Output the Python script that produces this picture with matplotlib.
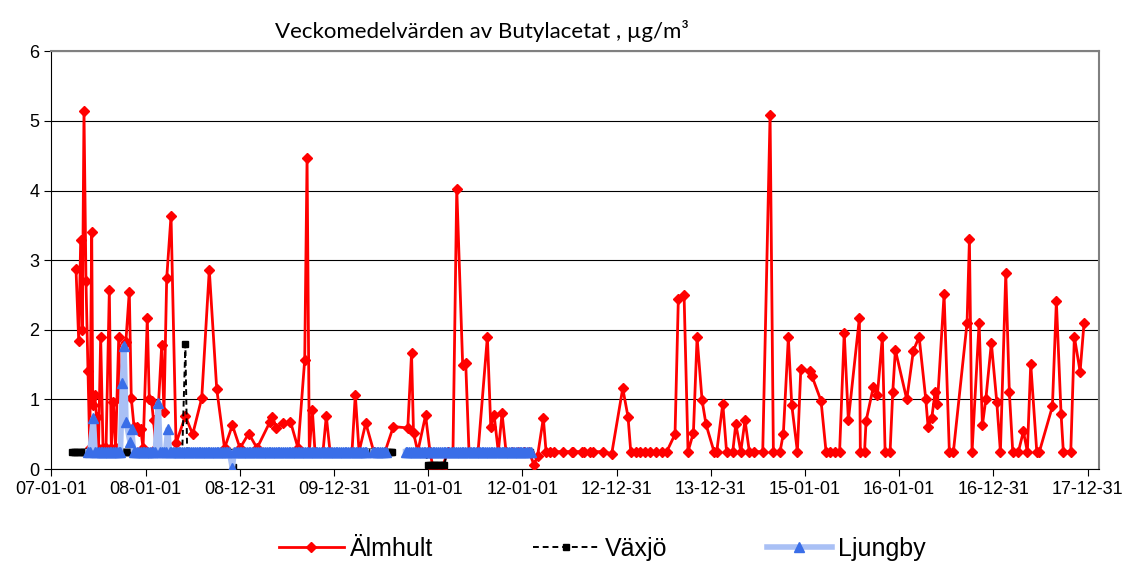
import numpy as np
import matplotlib
matplotlib.use("Agg")
import matplotlib.pyplot as plt

# x positions are decimal years
almhult_x = [2007.262, 2007.291, 2007.312, 2007.329, 2007.347, 2007.368, 2007.390, 2007.408, 2007.429, 2007.440,
             2007.461, 2007.480, 2007.501, 2007.524, 2007.549, 2007.581, 2007.616, 2007.637, 2007.658, 2007.682,
             2007.716, 2007.729, 2007.767, 2007.791, 2007.828, 2007.849, 2007.878, 2007.907, 2007.926, 2007.949,
             2007.974, 2008.019, 2008.040, 2008.064, 2008.085, 2008.112, 2008.172, 2008.196, 2008.225, 2008.271,
             2008.324, 2008.423, 2008.501, 2008.597, 2008.677, 2008.756, 2008.839, 2008.922, 2009.003, 2009.096,
             2009.184, 2009.322, 2009.346, 2009.385, 2009.460, 2009.539, 2009.619, 2009.690, 2009.715, 2009.739,
             2009.771, 2009.799, 2009.884, 2009.919, 2009.959, 2010.192, 2010.227, 2010.267, 2010.338, 2010.423,
             2010.543, 2010.631, 2010.784, 2010.824, 2010.845, 2010.890, 2010.973, 2011.020, 2011.052, 2011.100,
             2011.148, 2011.211, 2011.264, 2011.304, 2011.367, 2011.399, 2011.434, 2011.530, 2011.629, 2011.665,
             2011.700, 2011.745, 2011.785, 2011.827, 2011.891, 2011.955, 2012.018, 2012.071, 2012.124, 2012.162,
             2012.223, 2012.252, 2012.294, 2012.337, 2012.435, 2012.525, 2012.542, 2012.631, 2012.655, 2012.719,
             2012.754, 2012.854, 2012.949, 2013.066, 2013.122, 2013.151, 2013.207, 2013.250, 2013.303, 2013.356,
             2013.420, 2013.480, 2013.533, 2013.621, 2013.656, 2013.717, 2013.759, 2013.816, 2013.855, 2013.908,
             2013.950, 2014.035, 2014.064, 2014.128, 2014.168, 2014.234, 2014.266, 2014.319, 2014.364, 2014.410,
             2014.460, 2014.552, 2014.630, 2014.665, 2014.736, 2014.771, 2014.824, 2014.860, 2014.920, 2014.956,
             2015.054, 2015.076, 2015.171, 2015.224, 2015.267, 2015.320, 2015.368, 2015.417, 2015.461, 2015.578,
             2015.588, 2015.633, 2015.649, 2015.726, 2015.769, 2015.822, 2015.851, 2015.904, 2015.932, 2015.960,
             2016.081, 2016.151, 2016.212, 2016.283, 2016.307, 2016.346, 2016.381, 2016.406, 2016.477, 2016.533,
             2016.576, 2016.721, 2016.746, 2016.774, 2016.849, 2016.884, 2016.920, 2016.979, 2017.036, 2017.075,
             2017.132, 2017.170, 2017.206, 2017.266, 2017.319, 2017.361, 2017.397, 2017.461, 2017.489, 2017.627,
             2017.669, 2017.719, 2017.743, 2017.822, 2017.860, 2017.921, 2017.963]
almhult_y = [2.88, 1.84, 3.29, 2.00, 5.14, 2.70, 1.41, 0.30, 3.41, 0.92,
             1.07, 0.75, 0.30, 1.90, 0.30, 0.30, 2.57, 0.30, 0.97, 0.30,
             1.90, 1.00, 1.78, 1.82, 2.55, 1.02, 0.61, 0.60, 0.55, 0.58,
             0.30, 2.17, 1.00, 0.98, 0.70, 0.30, 1.78, 0.82, 2.74, 3.64,
             0.37, 0.76, 0.50, 1.02, 2.86, 1.15, 0.30, 0.63, 0.30, 0.51,
             0.30, 0.68, 0.75, 0.59, 0.66, 0.68, 0.30, 1.57, 4.47, 0.25,
             0.85, 0.25, 0.25, 0.76, 0.25, 0.25, 1.07, 0.25, 0.66, 0.25,
             0.25, 0.61, 0.59, 1.66, 0.52, 0.25, 0.77, 0.25, 0.02, 0.02,
             0.02, 0.25, 0.25, 4.03, 1.49, 1.53, 0.25, 0.25, 1.90, 0.61,
             0.78, 0.25, 0.80, 0.25, 0.25, 0.25, 0.25, 0.25, 0.06, 0.19,
             0.73, 0.25, 0.25, 0.25, 0.25, 0.25, 0.25, 0.25, 0.25, 0.25,
             0.25, 0.25, 0.22, 1.16, 0.75, 0.25, 0.25, 0.25, 0.25, 0.25,
             0.25, 0.25, 0.25, 0.50, 2.44, 2.50, 0.25, 0.52, 1.89, 0.99,
             0.64, 0.25, 0.25, 0.94, 0.25, 0.25, 0.65, 0.25, 0.70, 0.25,
             0.25, 0.25, 5.09, 0.25, 0.25, 0.51, 1.89, 0.92, 0.25, 1.43,
             1.41, 1.33, 0.98, 0.25, 0.25, 0.25, 0.25, 1.96, 0.70, 2.17,
             0.25, 0.25, 0.69, 1.18, 1.06, 1.90, 0.25, 0.25, 1.10, 1.71,
             1.00, 1.70, 1.90, 1.00, 0.61, 0.73, 1.10, 0.93, 2.51, 0.25,
             0.25, 2.10, 3.30, 0.25, 2.10, 0.63, 1.00, 1.81, 0.97, 0.25,
             2.81, 1.10, 0.25, 0.25, 0.54, 0.25, 1.51, 0.25, 0.25, 0.90,
             2.41, 0.79, 0.25, 0.25, 1.90, 1.40, 2.10]

# weekly stretches at the reporting value: (start, end, value)
vaxjo_runs = [(2007.217, 2008.404, 0.25), (2008.442, 2008.900, 0.25), (2008.948, 2010.640, 0.25),
              (2010.780, 2010.985, 0.25), (2011.000, 2011.180, 0.06), (2011.200, 2012.090, 0.25)]
vaxjo_x = [2008.423, 2008.929]
vaxjo_y = [1.79, 0.03]

ljungby_runs = [(2007.390, 2007.427, 0.25), (2007.465, 2007.735, 0.25), (2007.873, 2008.117, 0.25),
                (2008.155, 2008.217, 0.25), (2008.255, 2008.903, 0.25), (2008.941, 2010.345, 0.25),
                (2010.415, 2010.560, 0.25), (2010.760, 2012.100, 0.25)]
ljungby_x = [2007.446, 2007.754, 2007.772, 2007.793, 2007.835, 2007.854, 2008.136, 2008.236, 2008.922]
ljungby_y = [0.73, 1.23, 1.77, 0.68, 0.39, 0.57, 0.95, 0.57, 0.01]

tick_labels = ['07-01-01', '08-01-01', '08-12-31', '09-12-31', '11-01-01', '12-01-01',
               '12-12-31', '13-12-31', '15-01-01', '16-01-01', '16-12-31', '17-12-31']


def build(runs, px, py):
    xs, ys = list(px), list(py)
    for a, b, v in runs:
        w = np.arange(a, b + 1e-6, 1 / 52)
        xs += list(w)
        ys += [v] * len(w)
    order = np.argsort(xs)
    xs = np.array(xs)[order]
    ys = np.array(ys)[order]
    ox, oy = [xs[0]], [ys[0]]
    for i in range(1, len(xs)):
        if xs[i] - xs[i - 1] > 0.045:
            ox.append(np.nan)
            oy.append(np.nan)
        ox.append(xs[i])
        oy.append(ys[i])
    return ox, oy


plt.rcParams['font.family'] = ['Liberation Sans', 'DejaVu Sans']
fig = plt.figure(figsize=(11.3, 5.69), dpi=100)
ax = fig.add_axes([0.0454, 0.1757, 0.9272, 0.734])

ax.plot(almhult_x, almhult_y, color='#FF0000', lw=2, marker='D', ms=5,
        label='Älmhult', zorder=3)
vx, vy = build(vaxjo_runs, vaxjo_x, vaxjo_y)
ax.plot(vx, vy, color='black', lw=1.4, ls=(0, (3, 2)), marker='s', ms=5,
        label='Växjö', zorder=4)
lx, ly = build(ljungby_runs, ljungby_x, ljungby_y)
ax.plot(lx, ly, color='#A9C0F5', lw=4, marker='^', ms=7, mfc='#3A6EE8', mec='#3A6EE8',
        label='Ljungby', zorder=5)

ax.set_ylim(0, 6)
ax.set_yticks(range(7))
ax.set_xlim(2007.0, 2018.122)
ax.set_xticks([2007 + k for k in range(12)])
ax.set_xticklabels(tick_labels)
ax.tick_params(labelsize=13, direction='out', length=5, color='black')
ax.grid(axis='y', color='black', lw=0.8)
ax.set_axisbelow(True)
for s in ['top', 'right']:
    ax.spines[s].set_color('#808080')
    ax.spines[s].set_linewidth(1.5)
for s in ['left', 'bottom']:
    ax.spines[s].set_color('black')

fig.text(0.426, 0.945, 'Veckomedelvärden av Butylacetat , µg/m³', ha='center', va='center',
         fontsize=16, family=['Lato', 'DejaVu Sans'])
fig.legend(loc='center', bbox_to_anchor=(0.533, 0.036), ncol=3, frameon=False,
           fontsize=18, handlelength=2.6, columnspacing=4.0, handletextpad=0.25)

fig.savefig('out.png', dpi=100)
